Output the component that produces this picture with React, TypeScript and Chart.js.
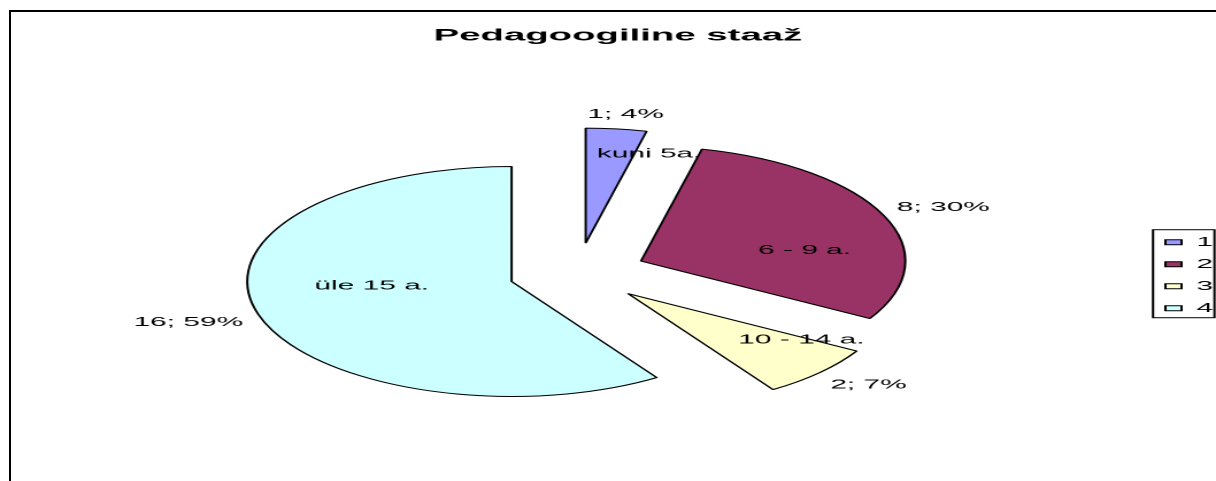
import React, { useEffect, useRef } from 'react';
import { Chart, registerables } from 'chart.js';

Chart.register(...registerables);

// ---- data ----
const TITLE = 'Pedagoogiline staaž';
const CATEGORIES = ['1', '2', '3', '4'];
const VALUES = [1, 8, 2, 16];
const PERIOD_NAMES = ['kuni 5a.', '6 - 9 a.', '10 - 14 a.', 'üle 15 a.'];

// ---- style ----
const COLORS = ['#9999FF', '#993366', '#FFFFCC', '#CCFFFF'];
const FONT = '"Liberation Sans", Arial, Helvetica, sans-serif';
const PAGE_W = 1216;
const PAGE_H = 481;
const CANVAS_W = 529; // drawn narrow, displayed stretched like the original picture
const CANVAS_H = 481;
const RADIUS = 115;
const EXPLODE = 30;
// label placement relative to each slice: angle shift (deg) from mid-angle, distance from slice tip
const VALUE_LABEL_PLACE = [
  { dAng: 1.0, r: 130 },
  { dAng: 1.2, r: 142 },
  { dAng: -2.2, r: 139 },
  { dAng: 0.4, r: 146.5 },
];
const NAME_LABEL_PLACE = [
  { dAng: 10.5, r: 93.5 },
  { dAng: 14.7, r: 72 },
  { dAng: -11.7, r: 88.7 },
  { dAng: 12.3, r: 61 },
];

const explodePlugin = {
  id: 'explodeSlices',
  beforeDatasetDraw(chart: any, args: any) {
    const ctx = chart.ctx;
    args.meta.data.forEach((el: any) => {
      const mid = (el.startAngle + el.endAngle) / 2;
      ctx.save();
      ctx.translate(Math.cos(mid) * EXPLODE, Math.sin(mid) * EXPLODE);
      el.draw(ctx, chart.chartArea);
      ctx.restore();
    });
    return false;
  },
};

const labelPlugin = {
  id: 'sliceLabels',
  afterDatasetsDraw(chart: any) {
    const ctx = chart.ctx;
    const meta = chart.getDatasetMeta(0);
    const data = chart.data.datasets[0].data as number[];
    const total = data.reduce((a, b) => a + b, 0);
    ctx.save();
    ctx.fillStyle = '#000';
    ctx.font = `13px ${FONT}`;
    ctx.textAlign = 'center';
    ctx.textBaseline = 'middle';
    meta.data.forEach((el: any, i: number) => {
      const mid = (el.startAngle + el.endAngle) / 2;
      const tx = el.x + Math.cos(mid) * EXPLODE;
      const ty = el.y + Math.sin(mid) * EXPLODE;
      const put = (text: string, p: { dAng: number; r: number }) => {
        const a = mid + (p.dAng * Math.PI) / 180;
        ctx.fillText(text, tx + Math.cos(a) * p.r, ty + Math.sin(a) * p.r);
      };
      const pct = Math.round((data[i] / total) * 100);
      put(`${data[i]}; ${pct}%`, VALUE_LABEL_PLACE[i]);
      put(PERIOD_NAMES[i], NAME_LABEL_PLACE[i]);
    });
    ctx.restore();
  },
};

const legendFramePlugin = {
  id: 'legendFrame',
  afterDraw(chart: any) {
    const lg = chart.legend;
    if (!lg || !lg.legendHitBoxes || !lg.legendHitBoxes.length) return;
    const boxes = lg.legendHitBoxes;
    let l = Infinity, r = -Infinity, t = Infinity, b = -Infinity;
    boxes.forEach((h: any) => {
      l = Math.min(l, h.left);
      r = Math.max(r, h.left + h.width);
      t = Math.min(t, h.top);
      b = Math.max(b, h.top + h.height);
    });
    const ctx = chart.ctx;
    ctx.save();
    ctx.strokeStyle = '#000';
    ctx.lineWidth = 1;
    ctx.strokeRect(l - 5.4, t - 6, r + 0.6 - (l - 5.4), b + 3 - (t - 6));
    ctx.restore();
  },
};

export default function App() {
  const ref = useRef<HTMLCanvasElement>(null);

  useEffect(() => {
    if (!ref.current) return;
    const chart = new Chart(ref.current, {
      type: 'pie',
      data: {
        labels: CATEGORIES,
        datasets: [
          {
            data: VALUES,
            backgroundColor: COLORS,
            borderColor: '#000000',
            borderWidth: 1,
          },
        ],
      },
      options: {
        responsive: false,
        devicePixelRatio: 2,
        animation: false,
        events: [],
        radius: RADIUS,
        layout: { padding: { left: 4.6, right: -4, top: 0, bottom: 0 } },
        plugins: {
          title: {
            display: true,
            text: TITLE,
            color: '#000',
            font: { size: 16.7, weight: 'bold', family: FONT, lineHeight: 1.2 },
            padding: { top: 25.8, bottom: 19 },
          },
          legend: {
            display: true,
            position: 'right',
            fullSize: false,
            maxWidth: 35,
            title: { display: true, text: '', font: { size: 4.6, lineHeight: 1 }, padding: 0 },
            labels: {
              boxWidth: 7,
              boxHeight: 5,
              padding: 9,
              color: '#000',
              font: { size: 13, family: FONT },
            },
          },
          tooltip: { enabled: false },
        },
      } as any,
      plugins: [explodePlugin, labelPlugin, legendFramePlugin],
    });
    return () => chart.destroy();
  }, []);

  return (
    <div
      style={{
        position: 'absolute',
        left: 0,
        top: 0,
        width: PAGE_W,
        height: PAGE_H,
        overflow: 'hidden',
        background: '#ffffff',
      }}
    >
      <canvas
        ref={ref}
        width={CANVAS_W}
        height={CANVAS_H}
        style={{ position: 'absolute', left: 0, top: 0, width: `${PAGE_W}px`, height: `${PAGE_H}px` }}
      />
      <div
        style={{
          position: 'absolute',
          left: 9,
          top: 10,
          width: PAGE_W - 9,
          height: PAGE_H - 10,
          borderLeft: '2px solid #000',
          borderTop: '2px solid #000',
          boxSizing: 'border-box',
          pointerEvents: 'none',
        }}
      />
    </div>
  );
}
